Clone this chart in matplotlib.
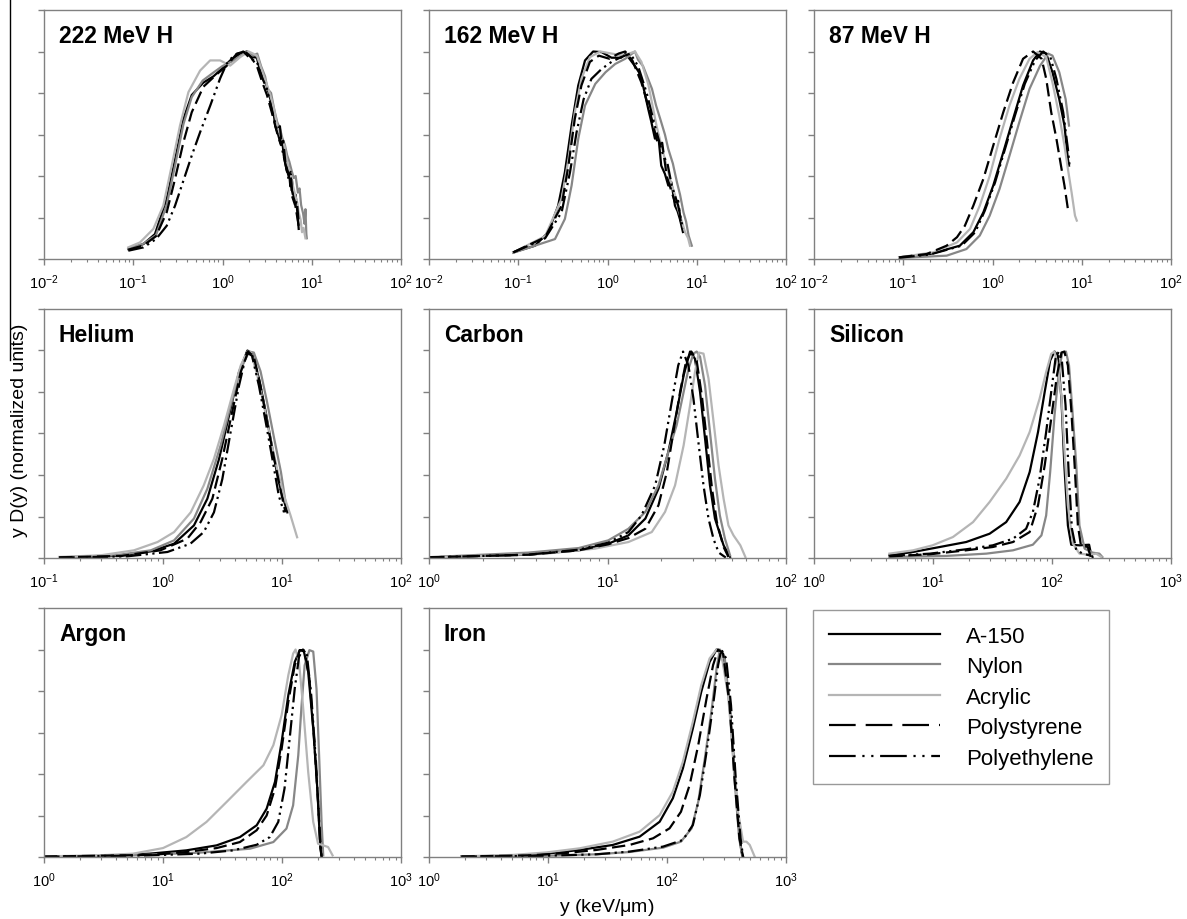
import math
import matplotlib
matplotlib.use("Agg")
import matplotlib.pyplot as plt
from matplotlib.lines import Line2D
from matplotlib.ticker import LogLocator, FuncFormatter, MultipleLocator, NullFormatter

plt.rcParams['font.family'] = ['Liberation Sans', 'DejaVu Sans']
plt.rcParams['mathtext.fontset'] = 'custom'
plt.rcParams['mathtext.rm'] = 'Liberation Sans'
plt.rcParams['mathtext.default'] = 'regular'

MATERIALS = ["A-150", "Nylon", "Acrylic", "Polystyrene", "Polyethylene"]
TITLES = ["222 MeV H", "162 MeV H", "87 MeV H", "Helium", "Carbon", "Silicon", "Argon", "Iron"]
XLIMS = [(1e-2, 1e2), (1e-2, 1e2), (1e-2, 1e2), (1e-1, 1e2), (1e0, 1e2), (1e0, 1e3), (1e0, 1e3), (1e0, 1e3)]

# ---------------- 222 MeV H ----------------
H222_A150_X = [0.088, 0.13, 0.175, 0.237, 0.294, 0.365, 0.452, 0.61, 0.79, 0.98, 1.22, 1.58, 1.87, 2.1, 2.43, 2.65, 2.89, 3.15, 3.44, 3.7, 3.9, 4.2, 4.45, 4.65, 4.85, 5.05, 5.3, 5.5, 5.75, 6.0, 6.3, 6.6, 6.9, 7.14]
H222_A150_Y = [0.048, 0.072, 0.12, 0.29, 0.48, 0.675, 0.79, 0.85, 0.88, 0.916, 0.957, 0.99, 1.0, 0.975, 0.97, 0.9, 0.88, 0.83, 0.77, 0.72, 0.64, 0.6, 0.56, 0.58, 0.5, 0.46, 0.42, 0.45, 0.35, 0.38, 0.29, 0.31, 0.225, 0.145]
H222_NYL_X = [0.088, 0.13, 0.18, 0.237, 0.294, 0.365, 0.452, 0.6, 0.8, 1.0, 1.25, 1.6, 1.9, 2.2, 2.45, 2.7, 3.0, 3.2, 3.5, 3.8, 4.1, 4.4, 4.7, 5.0, 5.3, 5.6, 6.0, 6.3, 6.6, 7.0, 7.3, 7.6, 8.0, 8.3, 8.5, 8.7, 8.8]
H222_NYL_Y = [0.05, 0.074, 0.115, 0.26, 0.45, 0.65, 0.78, 0.86, 0.9, 0.93, 0.95, 0.98, 1.0, 0.98, 0.99, 0.93, 0.88, 0.82, 0.8, 0.72, 0.66, 0.63, 0.58, 0.55, 0.5, 0.47, 0.42, 0.39, 0.4, 0.32, 0.34, 0.26, 0.22, 0.17, 0.24, 0.12, 0.1]
H222_ACR_X = [0.088, 0.119, 0.168, 0.217, 0.27, 0.334, 0.415, 0.561, 0.727, 0.94, 1.22, 1.58, 1.96, 2.2, 2.43, 2.89, 3.2, 3.44, 3.8, 4.08, 4.4, 4.85, 5.3, 5.75, 6.1, 6.55, 6.9, 7.14, 7.5, 7.78, 8.1, 8.5]
H222_ACR_Y = [0.056, 0.08, 0.145, 0.257, 0.45, 0.643, 0.804, 0.908, 0.957, 0.957, 0.932, 0.973, 1.0, 0.99, 0.98, 0.884, 0.83, 0.788, 0.72, 0.643, 0.6, 0.563, 0.47, 0.418, 0.36, 0.305, 0.27, 0.225, 0.19, 0.129, 0.15, 0.1]
H222_PS_X = [0.088, 0.13, 0.18, 0.237, 0.294, 0.365, 0.452, 0.61, 0.86, 1.11, 1.45, 1.8, 2.1, 2.43, 2.8, 3.15, 3.6, 4.08, 4.5, 4.8, 5.1, 5.5, 5.8, 6.0, 6.5, 6.8, 7.14]
H222_PS_Y = [0.045, 0.065, 0.11, 0.225, 0.386, 0.563, 0.707, 0.83, 0.89, 0.93, 0.99, 1.0, 0.97, 0.93, 0.85, 0.79, 0.7, 0.61, 0.55, 0.57, 0.45, 0.4, 0.42, 0.305, 0.26, 0.28, 0.177]
H222_PE_X = [0.088, 0.13, 0.18, 0.237, 0.294, 0.365, 0.452, 0.56, 0.73, 0.94, 1.11, 1.33, 1.71, 2.0, 2.43, 2.8, 3.15, 3.7, 4.1, 4.4, 4.65, 5.0, 5.5, 5.8, 6.0, 6.55, 7.14]
H222_PE_Y = [0.04, 0.056, 0.096, 0.16, 0.257, 0.378, 0.498, 0.61, 0.74, 0.87, 0.94, 0.98, 1.0, 0.97, 0.95, 0.87, 0.82, 0.69, 0.62, 0.64, 0.53, 0.47, 0.386, 0.41, 0.33, 0.257, 0.16]

# ---------------- 162 MeV H ----------------
H162_A150_X = [0.088, 0.154, 0.217, 0.28, 0.333, 0.396, 0.47, 0.56, 0.69, 0.86, 1.11, 1.42, 1.6, 1.8, 2.03, 2.25, 2.5, 2.87, 3.1, 3.4, 3.7, 4.0, 4.4, 4.8, 5.2, 5.7, 6.1, 6.5, 7.0]
H162_A150_Y = [0.032, 0.064, 0.129, 0.257, 0.418, 0.643, 0.836, 0.957, 1.0, 0.997, 0.97, 0.97, 0.99, 0.96, 0.93, 0.9, 0.836, 0.72, 0.66, 0.58, 0.6, 0.45, 0.41, 0.354, 0.37, 0.257, 0.23, 0.19, 0.13]
H162_NYL_X = [0.088, 0.258, 0.333, 0.396, 0.47, 0.56, 0.73, 0.95, 1.22, 1.58, 2.03, 2.2, 2.5, 3.15, 3.5, 3.9, 4.4, 4.8, 5.4, 6.0, 6.5, 7.1, 7.6, 8.1, 8.8]
H162_NYL_Y = [0.03, 0.096, 0.193, 0.354, 0.579, 0.74, 0.844, 0.9, 0.94, 0.965, 1.0, 0.96, 0.93, 0.82, 0.74, 0.675, 0.6, 0.53, 0.46, 0.37, 0.31, 0.225, 0.18, 0.113, 0.064]
H162_ACR_X = [0.088, 0.2, 0.306, 0.365, 0.43, 0.51, 0.635, 0.83, 1.11, 1.5, 2.03, 2.4, 2.87, 3.55, 4.0, 4.4, 5.25, 5.7, 6.2, 7.4, 8.0, 8.4]
H162_ACR_Y = [0.032, 0.11, 0.29, 0.48, 0.707, 0.868, 0.973, 1.0, 0.99, 0.98, 1.0, 0.95, 0.84, 0.64, 0.55, 0.48, 0.354, 0.31, 0.24, 0.129, 0.1, 0.064]
H162_PS_X = [0.088, 0.2, 0.306, 0.365, 0.43, 0.51, 0.635, 0.8, 1.05, 1.33, 1.58, 1.9, 2.4, 3.0, 3.7, 4.1, 4.6, 5.7, 6.2, 6.7]
H162_PS_Y = [0.032, 0.105, 0.257, 0.45, 0.675, 0.836, 0.95, 0.98, 0.965, 0.99, 1.0, 0.957, 0.85, 0.707, 0.547, 0.56, 0.4, 0.273, 0.28, 0.16]
H162_PE_X = [0.088, 0.2, 0.306, 0.38, 0.45, 0.54, 0.66, 0.86, 1.11, 1.42, 1.8, 2.2, 2.75, 3.4, 4.2, 4.7, 5.25, 6.2, 7.0]
H162_PE_Y = [0.032, 0.1, 0.225, 0.418, 0.61, 0.77, 0.868, 0.916, 0.95, 0.973, 0.99, 0.93, 0.8, 0.64, 0.5, 0.46, 0.354, 0.257, 0.145]

# ---------------- 87 MeV H ----------------
H87_A150_X = [0.09, 0.2, 0.43, 0.61, 0.79, 1.02, 1.32, 1.7, 2.2, 2.85, 3.4, 4.0, 4.7, 5.6, 6.4, 7.0, 7.2]
H87_A150_Y = [0.008, 0.024, 0.064, 0.129, 0.225, 0.354, 0.514, 0.675, 0.836, 0.957, 1.0, 0.99, 0.9, 0.77, 0.643, 0.48, 0.45]
H87_NYL_X = [0.09, 0.306, 0.51, 0.72, 0.93, 1.2, 1.55, 2.0, 2.6, 3.4, 4.2, 4.7, 5.6, 6.6, 7.2]
H87_NYL_Y = [0.005, 0.016, 0.048, 0.113, 0.209, 0.338, 0.498, 0.66, 0.82, 0.93, 0.99, 0.98, 0.9, 0.77, 0.643]
H87_ACR_X = [0.09, 0.217, 0.4, 0.56, 0.72, 0.93, 1.2, 1.55, 2.0, 2.6, 3.2, 4.0, 4.7, 5.6, 6.4, 7.0, 7.7, 8.4, 8.8]
H87_ACR_Y = [0.008, 0.032, 0.08, 0.145, 0.257, 0.4, 0.58, 0.74, 0.868, 0.965, 0.997, 0.973, 0.85, 0.69, 0.547, 0.434, 0.32, 0.209, 0.185]
H87_PS_X = [0.09, 0.183, 0.306, 0.4, 0.49, 0.61, 0.79, 1.02, 1.32, 1.7, 2.2, 2.85, 3.55, 4.0, 4.55, 5.2, 5.85, 6.4, 7.0]
H87_PS_Y = [0.008, 0.024, 0.064, 0.105, 0.16, 0.257, 0.386, 0.547, 0.707, 0.85, 0.965, 1.0, 0.965, 0.868, 0.707, 0.58, 0.45, 0.354, 0.24]
H87_PE_X = [0.09, 0.2, 0.45, 0.64, 0.82, 1.07, 1.38, 1.78, 2.3, 3.0, 3.7, 4.45, 5.2, 6.2, 7.0, 7.3]
H87_PE_Y = [0.006, 0.022, 0.064, 0.129, 0.233, 0.37, 0.53, 0.69, 0.844, 0.957, 1.0, 0.973, 0.868, 0.707, 0.53, 0.45]

# ---------------- Helium ----------------
HE_A150_X = [0.134, 0.4, 0.79, 1.24, 1.82, 2.36, 2.96, 3.7, 4.35, 5.12, 5.6, 6.4, 7.3, 8.3, 9.4, 10.1, 11.1]
HE_A150_Y = [0.003, 0.01, 0.032, 0.069, 0.157, 0.286, 0.478, 0.72, 0.896, 1.0, 0.985, 0.865, 0.703, 0.526, 0.366, 0.3, 0.22]
HE_NYL_X = [0.134, 0.4, 0.79, 1.24, 1.82, 2.36, 3.05, 3.7, 4.5, 5.3, 5.8, 6.6, 7.5, 8.6, 9.8, 10.7]
HE_NYL_Y = [0.003, 0.013, 0.037, 0.085, 0.19, 0.334, 0.543, 0.735, 0.91, 0.995, 0.99, 0.9, 0.75, 0.575, 0.414, 0.27]
HE_ACR_X = [0.134, 0.3, 0.57, 0.9, 1.24, 1.71, 2.2, 2.68, 3.26, 3.95, 4.5, 5.12, 5.5, 6.2, 7.06, 8.0, 9.1, 10.4, 11.8, 13.4]
HE_ACR_Y = [0.005, 0.013, 0.037, 0.077, 0.125, 0.22, 0.35, 0.478, 0.64, 0.815, 0.928, 0.995, 0.99, 0.88, 0.735, 0.575, 0.43, 0.3, 0.205, 0.1]
HE_PS_X = [0.134, 0.45, 0.95, 1.6, 2.07, 2.6, 3.15, 3.8, 4.5, 5.2, 5.8, 6.6, 7.5, 8.6, 9.8, 10.7]
HE_PS_Y = [0.003, 0.01, 0.037, 0.093, 0.173, 0.286, 0.478, 0.7, 0.896, 0.995, 0.97, 0.83, 0.655, 0.478, 0.318, 0.22]
HE_PE_X = [0.134, 0.5, 1.09, 1.7, 2.2, 2.68, 3.15, 3.7, 4.35, 5.05, 5.6, 6.4, 7.3, 8.3, 9.4, 10.4]
HE_PE_Y = [0.002, 0.008, 0.029, 0.069, 0.125, 0.22, 0.38, 0.607, 0.83, 0.99, 0.975, 0.83, 0.655, 0.478, 0.3, 0.22]

# ---------------- Carbon ----------------
C_A150_X = [1.0, 3.6, 6.9, 10.1, 13.1, 16.3, 19.3, 21.9, 24.4, 26.7, 29.0, 30.9, 33.0, 35.2, 37.5, 40.0, 44.7, 48.6]
C_A150_Y = [0.003, 0.016, 0.037, 0.069, 0.109, 0.19, 0.334, 0.51, 0.703, 0.88, 0.995, 0.96, 0.8, 0.575, 0.35, 0.19, 0.061, 0.005]
C_NYL_X = [1.0, 3.6, 6.9, 10.1, 13.1, 16.3, 19.3, 21.9, 24.4, 26.7, 28.4, 30.3, 31.6, 33.0, 35.2, 37.5, 40.0, 42.6, 45.5, 48.6]
C_NYL_Y = [0.004, 0.026, 0.048, 0.085, 0.141, 0.222, 0.35, 0.51, 0.64, 0.8, 0.91, 0.985, 0.995, 0.97, 0.83, 0.607, 0.382, 0.205, 0.093, 0.013]
C_ACR_X = [1.0, 4.4, 8.5, 13.1, 17.7, 21.0, 23.9, 26.7, 29.0, 30.9, 32.5, 34.5, 36.8, 39.3, 41.9, 44.7, 47.6, 50.8, 55.5, 59.2]
C_ACR_Y = [0.002, 0.02, 0.045, 0.077, 0.125, 0.222, 0.35, 0.543, 0.735, 0.896, 0.99, 0.985, 0.865, 0.655, 0.446, 0.286, 0.157, 0.109, 0.061, 0.005]
C_PS_X = [1.0, 3.6, 6.9, 10.1, 13.1, 16.3, 19.3, 21.5, 23.4, 25.5, 27.5, 29.5, 31.6, 33.8, 36.1, 38.5, 41.0, 44.7, 47.6]
C_PS_Y = [0.003, 0.016, 0.037, 0.066, 0.096, 0.141, 0.254, 0.414, 0.607, 0.8, 0.944, 0.995, 0.95, 0.78, 0.559, 0.334, 0.173, 0.053, 0.005]
C_PE_X = [1.0, 3.6, 6.9, 10.1, 13.1, 15.5, 18.5, 20.8, 22.9, 24.9, 26.5, 28.4, 30.3, 32.3, 34.5, 36.8, 39.3, 42.0, 46.0]
C_PE_Y = [0.003, 0.016, 0.04, 0.074, 0.125, 0.205, 0.35, 0.543, 0.752, 0.928, 0.995, 0.928, 0.768, 0.559, 0.35, 0.19, 0.09, 0.026, 0.002]

# ---------------- Silicon ----------------
SI_A150_X = [4.3, 6.8, 11.4, 19.0, 29.9, 41.2, 53.4, 64.9, 76.3, 86.8, 96.5, 105, 112, 120, 127, 136, 145, 170, 205, 211, 219]
SI_A150_Y = [0.013, 0.029, 0.053, 0.077, 0.117, 0.173, 0.27, 0.414, 0.607, 0.8, 0.952, 0.995, 0.976, 0.767, 0.446, 0.157, 0.064, 0.061, 0.064, 0.029, 0.005]
SI_NYL_X = [4.3, 12.9, 28.0, 47.0, 69.0, 81.5, 89.3, 96.5, 105, 114, 122, 131, 139, 148, 160, 170, 188, 219, 250, 265]
SI_NYL_Y = [0.005, 0.01, 0.021, 0.037, 0.064, 0.109, 0.205, 0.414, 0.687, 0.896, 0.99, 0.995, 0.928, 0.72, 0.446, 0.157, 0.045, 0.026, 0.021, 0.005]
SI_ACR_X = [4.3, 6.8, 9.9, 14.7, 21.7, 29.9, 41.2, 53.4, 64.9, 78.6, 89.3, 98.5, 105, 112, 120, 127, 136, 150, 170, 205, 235, 260]
SI_ACR_Y = [0.021, 0.037, 0.061, 0.101, 0.173, 0.27, 0.382, 0.494, 0.607, 0.767, 0.896, 0.984, 0.995, 0.925, 0.78, 0.526, 0.254, 0.069, 0.021, 0.016, 0.021, 0.005]
SI_PS_X = [4.3, 9.4, 19.0, 31.8, 47.0, 64.9, 76.3, 86.8, 98.5, 110, 120, 127, 136, 145, 155, 165, 175, 200, 211]
SI_PS_Y = [0.008, 0.018, 0.037, 0.053, 0.077, 0.125, 0.254, 0.446, 0.671, 0.88, 0.99, 0.995, 0.928, 0.72, 0.446, 0.157, 0.061, 0.053, 0.005]
SI_PE_X = [4.3, 9.4, 19.0, 31.8, 47.0, 60.6, 69.1, 78.6, 89.3, 98.5, 107, 114, 121, 130, 138, 147, 160, 182, 205]
SI_PE_Y = [0.01, 0.021, 0.042, 0.061, 0.093, 0.141, 0.222, 0.382, 0.607, 0.8, 0.96, 0.995, 0.952, 0.735, 0.414, 0.141, 0.037, 0.021, 0.013]

# ---------------- Argon ----------------
AR_A150_X = [1.0, 2.9, 7.7, 15.7, 28.2, 44.3, 61.3, 74.3, 87.3, 99.3, 113, 128, 141, 152, 166, 183, 198, 208, 215]
AR_A150_Y = [0.002, 0.005, 0.016, 0.032, 0.056, 0.096, 0.153, 0.233, 0.362, 0.555, 0.78, 0.94, 0.997, 0.997, 0.892, 0.619, 0.33, 0.088, 0.0]
AR_NYL_X = [1.0, 5.6, 20.3, 53.8, 84.6, 109, 124, 137, 146, 155, 170, 183, 195, 205, 215, 222]
AR_NYL_Y = [0.002, 0.008, 0.021, 0.04, 0.072, 0.137, 0.249, 0.49, 0.73, 0.924, 0.997, 0.99, 0.81, 0.49, 0.169, 0.008]
AR_ACR_X = [1.0, 2.9, 5.6, 10.0, 15.7, 23.2, 34.2, 50.4, 69.8, 84.6, 99.3, 113, 124, 130, 139, 150, 166, 183, 201, 222, 244, 266]
AR_ACR_Y = [0.003, 0.008, 0.016, 0.043, 0.096, 0.169, 0.265, 0.362, 0.442, 0.539, 0.684, 0.876, 0.98, 1.0, 0.94, 0.73, 0.41, 0.169, 0.064, 0.056, 0.048, 0.008]
AR_PS_X = [1.0, 7.7, 15.7, 28.2, 44.3, 61.3, 74.3, 87.3, 99.3, 113, 128, 141, 155, 170, 186, 202, 210, 216]
AR_PS_Y = [0.002, 0.01, 0.024, 0.043, 0.072, 0.129, 0.2, 0.33, 0.522, 0.748, 0.924, 0.997, 0.99, 0.86, 0.571, 0.249, 0.04, 0.0]
AR_PE_X = [1.0, 7.7, 20.3, 38.9, 61.3, 79.0, 93.0, 105, 116, 128, 139, 150, 162, 176, 193, 205, 215]
AR_PE_Y = [0.001, 0.008, 0.016, 0.032, 0.059, 0.096, 0.169, 0.33, 0.571, 0.812, 0.965, 1.0, 0.973, 0.78, 0.458, 0.169, 0.0]

# ---------------- Iron ----------------
FE_A150_X = [1.87, 5.1, 9.7, 18.5, 35.0, 58.9, 86.8, 112, 136, 165, 194, 228, 261, 286, 326, 360, 395, 422, 436]
FE_A150_Y = [0.003, 0.006, 0.016, 0.034, 0.058, 0.098, 0.17, 0.283, 0.427, 0.62, 0.796, 0.94, 1.0, 0.989, 0.812, 0.507, 0.186, 0.026, 0.0]
FE_NYL_X = [1.87, 9.7, 25.5, 48.4, 92.6, 131, 161, 183, 208, 238, 261, 278, 305, 336, 369, 404, 430]
FE_NYL_Y = [0.002, 0.006, 0.013, 0.024, 0.045, 0.074, 0.138, 0.266, 0.475, 0.716, 0.909, 1.0, 0.965, 0.732, 0.379, 0.09, 0.0]
FE_ACR_X = [1.87, 5.1, 9.7, 18.5, 35.0, 58.9, 86.8, 112, 136, 165, 194, 228, 261, 286, 326, 360, 395, 436, 465, 496, 547]
FE_ACR_Y = [0.003, 0.01, 0.022, 0.042, 0.074, 0.122, 0.202, 0.315, 0.459, 0.652, 0.828, 0.957, 1.0, 0.98, 0.78, 0.491, 0.218, 0.074, 0.074, 0.058, 0.0]
FE_PS_X = [1.87, 7.0, 13.4, 25.5, 48.4, 76.3, 105, 131, 155, 183, 215, 244, 269, 296, 336, 369, 406, 436]
FE_PS_Y = [0.002, 0.008, 0.018, 0.034, 0.058, 0.09, 0.138, 0.218, 0.347, 0.539, 0.764, 0.925, 1.0, 0.98, 0.732, 0.379, 0.09, 0.0]
FE_PE_X = [1.87, 9.7, 25.5, 48.4, 92.6, 136, 165, 189, 215, 244, 269, 286, 314, 345, 378, 415, 436]
FE_PE_Y = [0.002, 0.006, 0.013, 0.026, 0.05, 0.082, 0.154, 0.299, 0.507, 0.732, 0.925, 1.0, 0.957, 0.732, 0.379, 0.09, 0.0]

PANEL_DATA = [
    [(H222_A150_X, H222_A150_Y), (H222_NYL_X, H222_NYL_Y), (H222_ACR_X, H222_ACR_Y), (H222_PS_X, H222_PS_Y), (H222_PE_X, H222_PE_Y)],
    [(H162_A150_X, H162_A150_Y), (H162_NYL_X, H162_NYL_Y), (H162_ACR_X, H162_ACR_Y), (H162_PS_X, H162_PS_Y), (H162_PE_X, H162_PE_Y)],
    [(H87_A150_X, H87_A150_Y), (H87_NYL_X, H87_NYL_Y), (H87_ACR_X, H87_ACR_Y), (H87_PS_X, H87_PS_Y), (H87_PE_X, H87_PE_Y)],
    [(HE_A150_X, HE_A150_Y), (HE_NYL_X, HE_NYL_Y), (HE_ACR_X, HE_ACR_Y), (HE_PS_X, HE_PS_Y), (HE_PE_X, HE_PE_Y)],
    [(C_A150_X, C_A150_Y), (C_NYL_X, C_NYL_Y), (C_ACR_X, C_ACR_Y), (C_PS_X, C_PS_Y), (C_PE_X, C_PE_Y)],
    [(SI_A150_X, SI_A150_Y), (SI_NYL_X, SI_NYL_Y), (SI_ACR_X, SI_ACR_Y), (SI_PS_X, SI_PS_Y), (SI_PE_X, SI_PE_Y)],
    [(AR_A150_X, AR_A150_Y), (AR_NYL_X, AR_NYL_Y), (AR_ACR_X, AR_ACR_Y), (AR_PS_X, AR_PS_Y), (AR_PE_X, AR_PE_Y)],
    [(FE_A150_X, FE_A150_Y), (FE_NYL_X, FE_NYL_Y), (FE_ACR_X, FE_ACR_Y), (FE_PS_X, FE_PS_Y), (FE_PE_X, FE_PE_Y)],
]

# line styles per material
COLORS = ["black", "#878787", "#b5b5b5", "black", "black"]
STYLES = ["-", "-", "-", (0, (6, 2.5)), (0, (7, 2, 1, 2, 1, 2))]
LEGEND_STYLES = ["-", "-", "-", (0, (12, 4.5)), (0, (12, 3, 1, 3, 1, 3))]
LW = 1.6
SPINE = "#808080"

W, H = 1187, 920
fig = plt.figure(figsize=(W / 100, H / 100), dpi=100)

col_left = [44, 429, 814]
row_bottom = [260, 559, 858]
ax_w, ax_h = 357, 249


def fmt(v, pos):
    e = int(round(math.log10(v)))
    return r"$10^{%d}$" % e


for i, (title, xl, series) in enumerate(zip(TITLES, XLIMS, PANEL_DATA)):
    r, c = divmod(i, 3)
    ax = fig.add_axes([col_left[c] / W, 1 - row_bottom[r] / H, ax_w / W, ax_h / H])
    for (xs, ys), col, ls in zip(series, COLORS, STYLES):
        ax.plot(xs, ys, color=col, linestyle=ls, lw=LW)
    ax.set_xscale("log")
    ax.set_xlim(*xl)
    ax.set_ylim(0, 1.2)
    ax.xaxis.set_major_locator(LogLocator(base=10, numticks=10))
    ax.xaxis.set_minor_locator(LogLocator(base=10, subs=range(2, 10), numticks=20))
    ax.xaxis.set_major_formatter(FuncFormatter(fmt))
    ax.xaxis.set_minor_formatter(NullFormatter())
    ax.yaxis.set_major_locator(MultipleLocator(0.2))
    ax.yaxis.set_major_formatter(NullFormatter())
    for s in ax.spines.values():
        s.set_color(SPINE)
        s.set_linewidth(1.0)
    ax.tick_params(axis="both", which="major", direction="out", length=4, width=1,
                   color=SPINE, labelsize=10.5, labelcolor="black", pad=6)
    ax.tick_params(axis="x", which="minor", direction="out", length=2.5, width=0.8, color=SPINE)
    ax.text(0.042, 0.945, title, transform=ax.transAxes, ha="left", va="top",
            fontsize=16.5, fontweight="bold")

# legend
handles = [Line2D([], [], color=c, linestyle=ls, lw=LW) for c, ls in zip(COLORS, LEGEND_STYLES)]
leg = fig.legend(handles, MATERIALS, loc="upper left", bbox_to_anchor=(813 / W, 1 - 611 / H),
                 bbox_transform=fig.transFigure, fontsize=16, frameon=True, fancybox=False,
                 edgecolor=SPINE, handlelength=5.0, handletextpad=1.2, labelspacing=0.43,
                 borderpad=0.7, borderaxespad=0)
leg.get_frame().set_linewidth(1.0)

fig.text(607 / W, 1 - 908 / H, r"y (keV/$\mu$m)", ha="center", va="center", fontsize=14)
fig.text(20 / W, 1 - 430 / H, "y D(y) (normalized units)", ha="center", va="center",
         rotation=90, fontsize=14)
fig.add_artist(Line2D([10 / W, 10 / W], [1.0, 1 - 361 / H], color="black", lw=1.0,
                      transform=fig.transFigure))

fig.savefig("out.png", dpi=100)
